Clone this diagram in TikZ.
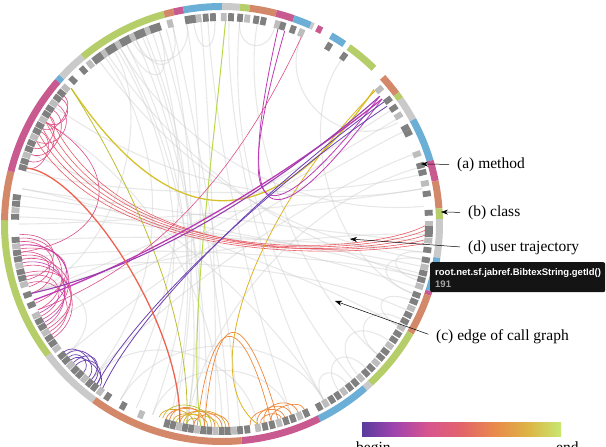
\documentclass[tikz,border=0pt]{standalone}
\usepackage{fontspec}
\setmainfont{Liberation Serif}
\newfontfamily\tipfont{Liberation Sans}
\usetikzlibrary{arrows.meta}
\definecolor{rgreen}{HTML}{B5CE6A}
\definecolor{rpink}{HTML}{C85A90}
\definecolor{rorange}{HTML}{D4886A}
\definecolor{rblue}{HTML}{6BAED6}
\definecolor{rgray}{HTML}{CACACA}
\definecolor{mdark}{HTML}{808080}
\definecolor{mlight}{HTML}{BDBDBD}
\definecolor{tpurple}{HTML}{6A40B0}
\definecolor{tviolet}{HTML}{9A3CB0}
\definecolor{tmagenta}{HTML}{BC3AB4}
\definecolor{tpink}{HTML}{DC4C88}
\definecolor{tred}{HTML}{E85C64}
\definecolor{torange}{HTML}{EE873C}
\definecolor{tgold}{HTML}{D8A628}
\definecolor{tyellow}{HTML}{D6C12C}
\definecolor{tolive}{HTML}{BDBE34}
\definecolor{tlime}{HTML}{BAD94A}
\definecolor{cba}{HTML}{5A3C9E}
\definecolor{cbb}{HTML}{A044AE}
\definecolor{cbc}{HTML}{D8558E}
\definecolor{cbd}{HTML}{E2646A}
\definecolor{cbe}{HTML}{E98A4C}
\definecolor{cbf}{HTML}{DDB445}
\definecolor{cbg}{HTML}{C8E870}
\pgfdeclarehorizontalshading{trajbar}{100bp}{color(0bp)=(cba); color(25bp)=(cba);
  color(33.3bp)=(cbb); color(41.7bp)=(cbc); color(50bp)=(cbd); color(58.3bp)=(cbe);
  color(66.7bp)=(cbf); color(75bp)=(cbg); color(100bp)=(cbg)}

\begin{document}
\begin{tikzpicture}[x=1pt,y=1pt,
    seg/.style={line width=7pt},
    meth/.style={line width=8pt},
    calledge/.style={gray!40,line width=1.1pt,opacity=0.45},
    traj/.style={line width=0.8pt},
    lbl/.style={font=\fontsize{15.5}{18}\selectfont,inner sep=0pt,anchor=west},
    lblarrow/.style={-{Stealth[length=7pt,width=5pt]},line width=0.5pt,shorten <=8pt},
    tiptext/.style={font=\tipfont\bfseries\fontsize{9.5}{11}\selectfont,inner sep=0pt,anchor=west}]
    \useasboundingbox (0,0) rectangle (606,447);
    \begin{scope}[shift={(222,223)}]
        % рёбра графа вызовов
        \foreach \a/\b/\r in {120/-100/80, 118/-105/70, 115/-95/90, 112/-110/60, 110/-120/75,
            125/-130/85, 108/-88/95, 100/-100/100, 96/-92/110, 94/-70/80, 88/-60/90, 85/-50/70,
            80/-40/100, 122/200/120, 118/108/150, 115/104/160, 98/92/170, 127/-10/60, 124/-15/70,
            120/5/80, -8/185/100, -12/178/90, -15/190/110, -18/175/80, -25/195/95, -5/170/120,
            10/180/110, 14/165/100, -8/-16/170, -10/-20/160, -22/-30/170, -28/-40/165,
            -35/-48/160, -45/-55/170, 34/200/80, 31/210/90, 27/220/70, 20/230/100, 16/-100/90,
            -110/-70/140, -120/-60/120, -130/-80/130, -140/200/150, 150/-90/80, 160/-60/90,
            145/10/70, 170/-30/100, 85/75/175, 67/30/140, 54/-20/120, 113/-98/85, 106/-104/90,
            121/-115/70, 104/-85/100, -3/200/105, -14/172/95, 116/100/165, -52/-60/175}
            \draw[calledge] (\a:203) .. controls (\a:\r) and (\b:\r) .. (\b:203);

        % методы
        \foreach \a [count=\i] in {136,132,129.5,127.5,126,...,108,104.5,99.5,98,96.5,94.5,92.5,
            89.5,87.5,85,83,80.5,78.5,74.5,73,70,67.5,59,54,40.5,36.7,34,31.5,27.6,26,19.7,16.4,
            14.4,11.3,8.4,3.1,0,-1.4,-2.8,-4.6,-7.2,-10,-12,-13.7,-15.6,-17.5,-20,-22,...,-62,
            -66,-68,...,-80,-83,-85,-86.7,...,-107,-113,-118.5,-123.5,-126,-128,-129.8,...,-141,
            -143,-144.8,...,-154,-157,-160,-163,-164.8,...,-176,-182,-183.8,...,-188,
            139,140.8,...,166} {
            \pgfmathtruncatemacro\m{mod(\i,3)}
            \ifnum\m=0 \def\mc{mlight}\else\def\mc{mdark}\fi
            \draw[meth,\mc] ({\a+0.8}:207) arc[start angle=\a+0.8,end angle=\a-0.8,radius=207];
        }

        % кольцо классов
        \foreach \a/\b/\c in {129.8/105.4/rgreen, 105.4/102.8/rorange, 102.8/100.2/rpink,
            100.2/90/rblue, 90/85.3/rgray, 85.3/82.7/rgreen, 82.7/75.6/rorange, 75.6/70.8/rpink,
            70.8/66/rblue, 66/65.2/rgray, 64.2/62.7/rpink, 60/55.8/rblue, 54.4/45.7/rgreen,
            42.4/36.7/rorange, 36.7/35/rgreen, 35/28.6/rgray, 28.6/16.9/rblue, 16.9/11.4/rpink,
            11.4/4.1/rorange, 4.1/1.3/rgreen, 1.3/-8.9/rgray, -8.9/-17.9/rblue, -17.9/-19/rpink,
            -19/-30/rorange, -30/-47/rgreen, -47/-49/rgray, -49/-63.5/rblue, -63.5/-84.8/rpink,
            -84.8/-126/rorange, -126/-143/rgray, -143/-181/rgreen, 179/166/rorange,
            166/139/rpink, 139/137.5/rblue, 137.5/129.8/rgray}
            \draw[seg,\c] (\a:217.5) arc[start angle=\a,end angle=\b,radius=217.5];

        % траектория
        \foreach \a/\b/\r in {142/150/185, 144/156/178, 146/160/180, 141/152/188, 150/162/182,
            148/158/188, 153/164/185}
            \draw[traj,tpink,line width=0.6pt] (\a:203) .. controls (\a:\r) and (\b:\r) .. (\b:203);
        \foreach \a/\b/\r in {184/205/158, 186/208/152, 188/210/162, 190/212/155, 185/200/165,
            192/214/158, 195/207/168, 183/196/162, 187/203/150, 189/198/170, 194/211/155,
            197/213/166, 188/150/110}
            \draw[traj,tpink,line width=0.6pt] (\a:203) .. controls (\a:\r) and (\b:\r) .. (\b:203);
        \foreach \a/\b/\r in {186/206/152, 191/209/160}
            \draw[traj,tmagenta,line width=0.6pt] (\a:203) .. controls (\a:\r) and (\b:\r) .. (\b:203);
        \foreach \a/\b/\r in {219/229/186, 220/231/182, 222/233/188, 224/232/184, 221/227/190,
            223/230/180}
            \draw[traj,tpurple,line width=0.7pt] (\a:203) .. controls (\a:\r) and (\b:\r) .. (\b:203);
        \foreach \a/\b/\r/\c in {-106/-92/184/torange, -104/-94/190/tgold, -102/-90/185/torange,
            -100/-96/194/tolive, -108/-98/188/tgold, -105/-95/182/torange, -103/-91/190/tyellow,
            -98/-88/187/torange, -107/-93/180/tolive, -101/-89/184/tgold}
            \draw[traj,\c,line width=0.7pt] (\a:203) .. controls (\a:\r) and (\b:\r) .. (\b:203);
        \foreach \a/\b/\r in {-80/-70/186, -78/-68/184, -82/-72/188, -76/-66/190, -79/-73/194,
            -95/-74/80, -97/-76/85}
            \draw[traj,torange,line width=0.7pt] (\a:203) .. controls (\a:\r) and (\b:\r) .. (\b:203);
        \foreach \a/\b in {150/-0.5, 152/-1.8, 154/-3.2, 148/-4.5, 156/-5.5}
            \draw[traj,tred,line width=0.6pt] (\a:203) .. controls (-100,-50) and (150,-30) .. (\b:203);
        \draw[traj,tyellow,line width=1.3pt] (138:203) .. controls (-50,-14) and (50,-14) .. (41.5:203);
        \draw[traj,tolive] (138:203) .. controls (-90,40) and (-30,-90) .. (-100:203);
        \draw[traj,tlime,line width=1pt] (89:203) .. controls (-10,60) and (-35,-110) .. (-96:203);
        \draw[traj,tyellow!80!orange] (41:203) .. controls (40,20) and (-30,-150) .. (-80:203);
        \draw[traj,tmagenta] (74:203) .. controls (5,-30) and (60,-10) .. (38:203);
        \draw[traj,tmagenta] (72:203) .. controls (0,-25) and (55,-5) .. (39:203);
        \draw[traj,tpink,line width=0.6pt] (67:203) .. controls (20,60) and (-60,-40) .. (205:203);
        \draw[traj,tmagenta,line width=1.3pt] (38:203) .. controls (80,60) and (-60,-30) .. (202:203);
        \draw[traj,tviolet,line width=1.1pt] (39:203) .. controls (70,50) and (-60,-40) .. (200:203);
        \draw[traj,tpurple] (37:203) .. controls (60,50) and (-80,-80) .. (234:203);
        \draw[traj,tpurple] (35.5:203) .. controls (55,45) and (-85,-85) .. (232:203);
        \draw[traj,tred!80!orange,line width=1.3pt] (164:203) .. controls (-140,50) and (-40,-100) .. (-102:203);
    \end{scope}

    % подписи
    \node[lbl] (lbla) at (457,282.5) {(a) method};
    \node[lbl] (lblb) at (468,234.5) {(b) class};
    \node[lbl] (lbld) at (468,199.5) {(d) user trajectory};
    \node[lbl] (lblc) at (436,110) {(c) edge of call graph};
    \coordinate (ta) at (421,283);
    \coordinate (tb) at (441,235);
    \coordinate (td) at (350,208);
    \coordinate (tc) at (335,146);
    \draw[lblarrow] (lbla.west) -- (ta);
    \draw[lblarrow] (lblb.west) -- (tb);
    \draw[lblarrow] (lbld.west) -- (td);
    \draw[lblarrow] (lblc.west) -- (tc);

    % подсказка
    \node[fill=black!92,rounded corners=2pt,minimum width=175pt,minimum height=30pt,
        anchor=north west,inner sep=0pt] (tipbox) at (430,185) {};
    \node[tiptext,white] (tipname) at (435,174) {root.net.sf.jabref.BibtexString.getId()};
    \node[tiptext,gray!70] (tipnum) at (435,163) {191};

    % шкала
    \shade[shading=trajbar] (362,10) rectangle (561,24);
    \node[lbl,anchor=base west] (lbeg) at (356,-6) {begin};
    \node[lbl,anchor=base west] (lend) at (556,-6) {end};
\end{tikzpicture}
\end{document}
